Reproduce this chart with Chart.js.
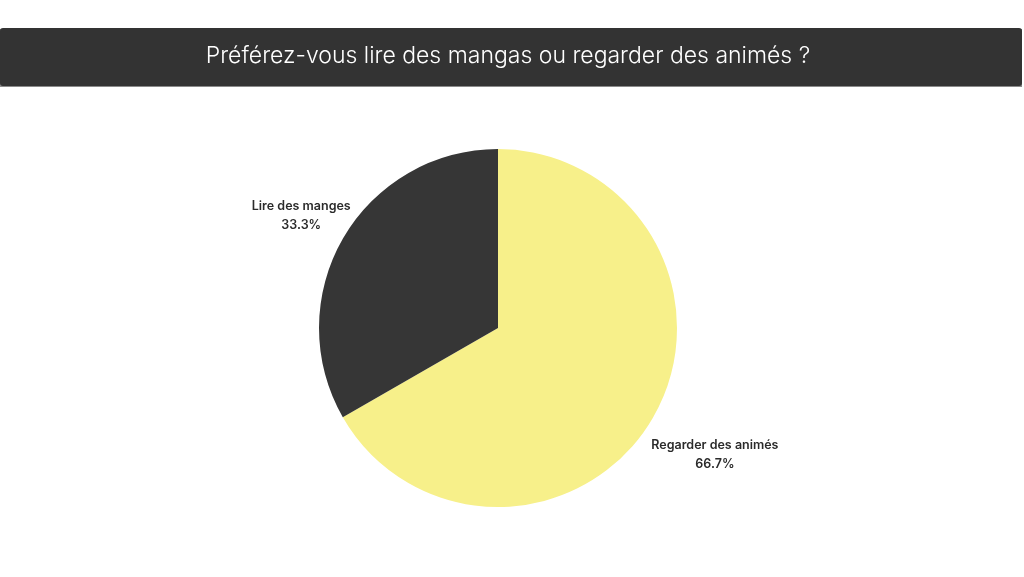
<!DOCTYPE html>
<html>
<head>
<meta charset="utf-8">
<script src="https://cdn.jsdelivr.net/npm/chart.js@4"></script>
<style>
  html, body { margin: 0; padding: 0; background: #fff; }
  #wrap { width: 1024px; height: 577px; }
</style>
</head>
<body>
<div id="wrap"><canvas id="pie" width="1024" height="577"></canvas></div>
<script>
let labels = ['Regarder des animés', 'Lire des manges'];
let values = [66.7, 33.3];
let colors = ['#f7f08a', '#363636'];
let titleText = 'Préférez-vous lire des mangas ou regarder des animés ?';

// dark band with the title on it
let titleBar = {
    id: 'titleBar',
    beforeDraw: function(chart) {
        let ctx = chart.ctx;
        ctx.save();
        ctx.fillStyle = '#8a8a8a';
        ctx.fillRect(0, 29, 1022, 58);
        ctx.fillStyle = '#333333';
        ctx.beginPath();
        ctx.roundRect(0, 28, 1022, 58, 3);
        ctx.fill();
        ctx.fillStyle = '#ffffff';
        ctx.font = '300 23px Inter, sans-serif';
        ctx.textAlign = 'center';
        ctx.textBaseline = 'middle';
        ctx.fillText(titleText, 508, 56);
        ctx.restore();
    }
};

// labels outside the slices, name + percent
let outsideLabels = {
    id: 'outsideLabels',
    afterDatasetsDraw: function(chart, args, opts) {
        let ctx = chart.ctx;
        let meta = chart.getDatasetMeta(0);
        ctx.save();
        ctx.font = '600 12.5px Inter, sans-serif';
        ctx.fillStyle = '#2b2b2b';
        ctx.textAlign = 'center';
        ctx.textBaseline = 'middle';
        meta.data.forEach(function(arc, i) {
            let p = arc.getProps(['x', 'y', 'startAngle', 'endAngle', 'outerRadius'], true);
            let mid = (p.startAngle + p.endAngle) / 2;
            let r = p.outerRadius * opts.factors[i];
            let x = p.x + Math.cos(mid) * r;
            let y = p.y + Math.sin(mid) * r;
            ctx.fillText(chart.data.labels[i], x, y - 8);
            ctx.fillText(values[i].toFixed(1) + '%', x, y + 11);
        });
        ctx.restore();
    }
};

new Chart(document.getElementById('pie'), {
    type: 'pie',
    data: {
        labels: labels,
        datasets: [{
            data: values,
            backgroundColor: colors,
            borderWidth: 0
        }]
    },
    options: {
        responsive: false,
        animation: false,
        layout: { padding: { top: 149, left: 300, right: 328, bottom: 70 } },
        plugins: {
            legend: { display: false },
            tooltip: { enabled: false },
            title: { display: false },
            outsideLabels: { factors: [1.4, 1.27] }
        }
    },
    plugins: [titleBar, outsideLabels]
});
</script>
</body>
</html>
